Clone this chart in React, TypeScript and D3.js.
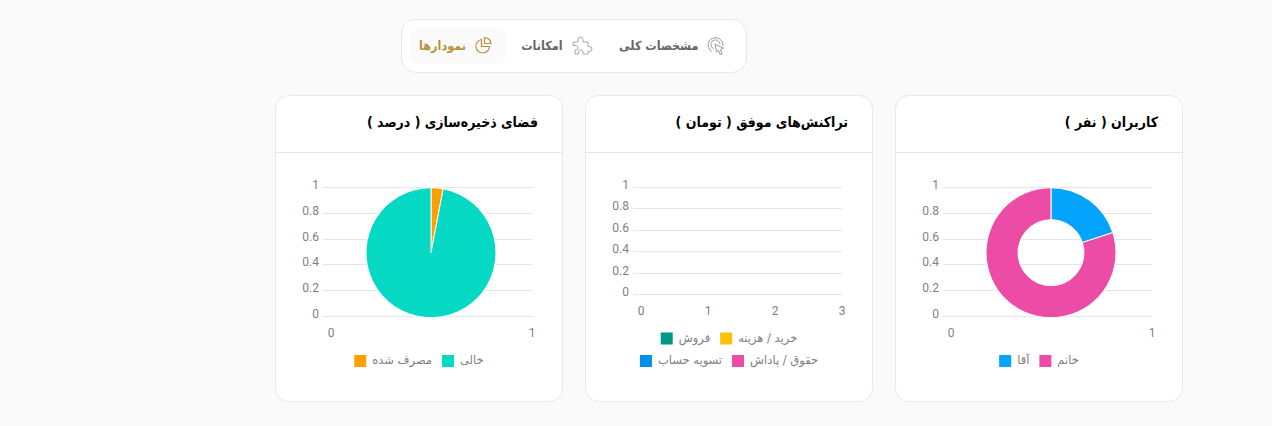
import { useEffect, useRef } from "react";
import * as d3 from "d3";

const WIDTH = 1272;
const HEIGHT = 426;
const FA_FONT = "'DejaVu Sans', sans-serif";
const FA_CONDENSED = "'DejaVu Sans Condensed', 'DejaVu Sans', sans-serif";
const NUM_FONT = "Roboto, sans-serif";

const yTicks = [0, 0.2, 0.4, 0.6, 0.8, 1];

const userLabels = ["خانم", "آقا"];
const userValues = [80, 20];
const userColors = ["#ec4ca5", "#03a5fc"];

const txLabels = ["خرید / هزینه", "فروش", "حقوق / پاداش", "تسویه حساب"];
const txColors = ["#ffc107", "#009688", "#ec4ca5", "#0090ea"];
const txXTicks = [0, 1, 2, 3];

const storageLabels = ["خالی", "مصرف شده"];
const storageValues = [97, 3];
const storageColors = ["#05d9c3", "#ff9f00"];

const tabLabels = ["مشخصات کلی", "امکانات", "نمودارها"];

interface CardSpec {
  left: number;
  title: string;
  labels: string[][];
  colors: string[][];
  xTicks: number[];
  bottom: number;
  values?: number[];
  sliceColors?: string[];
  inner?: number;
}

const cards: CardSpec[] = [
  {
    left: 895.5,
    title: "کاربران ( نفر )",
    labels: [userLabels],
    colors: [userColors],
    xTicks: [0, 1],
    bottom: 316.5,
    values: userValues,
    sliceColors: userColors,
    inner: 33,
  },
  {
    left: 585.5,
    title: "تراکنش‌های موفق ( تومان )",
    labels: [txLabels.slice(0, 2), txLabels.slice(2)],
    colors: [txColors.slice(0, 2), txColors.slice(2)],
    xTicks: txXTicks,
    bottom: 294.5,
  },
  {
    left: 275.5,
    title: "فضای ذخیره‌سازی ( درصد )",
    labels: [storageLabels],
    colors: [storageColors],
    xTicks: [0, 1],
    bottom: 316.5,
    values: storageValues,
    sliceColors: storageColors,
    inner: 0,
  },
];

const CARD_W = 287;
const CARD_H = 306;
const CARD_TOP = 95.5;
const GRID = "#e5e5e5";

function drawCard(svg: d3.Selection<SVGSVGElement, unknown, null, undefined>, c: CardSpec) {
  const g = svg.append("g").attr("transform", `translate(${c.left},0)`);

  g.append("rect")
    .attr("y", CARD_TOP)
    .attr("width", CARD_W)
    .attr("height", CARD_H)
    .attr("rx", 13)
    .attr("fill", "#fff")
    .attr("stroke", "#e8e8e8");

  g.append("line")
    .attr("x2", CARD_W)
    .attr("y1", 152.5)
    .attr("y2", 152.5)
    .attr("stroke", GRID);

  g.append("text")
    .attr("x", CARD_W - 24.5)
    .attr("y", 127)
    .attr("direction", "rtl")
    .attr("text-anchor", "start")
    .attr("font-family", FA_CONDENSED)
    .attr("font-size", 14)
    .attr("font-weight", 700)
    .attr("fill", "#000")
    .text(c.title);

  const x = d3
    .scaleLinear()
    .domain(d3.extent(c.xTicks) as [number, number])
    .range([55.5, 256.5]);
  const y = d3.scaleLinear().domain([0, 1]).range([c.bottom, 187.5]);
  const snap = (v: number) => Math.floor(y(v)) + 0.5;

  // grid lines run past the axis start by the tick length
  g.append("g")
    .selectAll("line")
    .data(yTicks)
    .join("line")
    .attr("x1", 47.5)
    .attr("x2", 256.5)
    .attr("y1", snap)
    .attr("y2", snap)
    .attr("stroke", GRID);

  g.append("g")
    .selectAll("text")
    .data(yTicks)
    .join("text")
    .attr("x", 43.5)
    .attr("y", (d) => snap(d) + 1.5)
    .attr("text-anchor", "end")
    .attr("font-family", NUM_FONT)
    .attr("font-size", 12)
    .attr("fill", "#808080")
    .text((d) => String(d));

  g.append("g")
    .selectAll("text")
    .data(c.xTicks)
    .join("text")
    .attr("x", (d) => x(d))
    .attr("y", c.bottom + 20.5)
    .attr("text-anchor", "middle")
    .attr("font-family", NUM_FONT)
    .attr("font-size", 12)
    .attr("fill", "#808080")
    .text((d) => String(d));

  if (c.values && c.sliceColors) {
    // slices go clockwise from the top with the last category first
    const slices = c.values.map((value, i) => ({ value, color: c.sliceColors![i] })).reverse();
    const pie = d3
      .pie<{ value: number; color: string }>()
      .sort(null)
      .value((d) => d.value);
    const arc = d3
      .arc<d3.PieArcDatum<{ value: number; color: string }>>()
      .innerRadius(c.inner ?? 0)
      .outerRadius(65);
    g.append("g")
      .attr("transform", `translate(${x(0.5) - 0.5},${y(0.5) + 0.7})`)
      .selectAll("path")
      .data(pie(slices))
      .join("path")
      .attr("d", arc)
      .attr("fill", (d) => d.data.color)
      .attr("stroke", "#fff")
      .attr("stroke-width", 1);
  }

  // legend rows, centred in the card using measured text widths
  const rowY = c.labels.length === 2 ? [338.5, 361] : [361];
  c.labels.forEach((row, r) => {
    const items = g.append("g");
    const texts = row.map((label) =>
      items
        .append("text")
        .attr("direction", "rtl")
        .attr("text-anchor", "start")
        .attr("y", rowY[r] + 3)
        .attr("font-family", FA_FONT)
        .attr("font-size", 11.5)
        .attr("fill", "#808080")
        .text(label)
    );
    const widths = texts.map((t) => t.node()!.getComputedTextLength());
    const total = d3.sum(widths) + row.length * 18 + (row.length - 1) * 10;
    let right = CARD_W / 2 + total / 2;
    row.forEach((_, i) => {
      texts[i].attr("x", right);
      right -= widths[i] + 6;
      items
        .append("rect")
        .attr("x", right - 12)
        .attr("y", rowY[r] - 6)
        .attr("width", 12)
        .attr("height", 12)
        .attr("fill", c.colors[r][i]);
      right -= 12 + 10;
    });
  });
}

function drawTabs(svg: d3.Selection<SVGSVGElement, unknown, null, undefined>) {
  const g = svg.append("g");
  g.append("rect")
    .attr("x", 401.5)
    .attr("y", 19.5)
    .attr("width", 345)
    .attr("height", 53)
    .attr("rx", 14)
    .attr("fill", "#fff")
    .attr("stroke", "#e8e8e8");
  g.append("rect")
    .attr("x", 410)
    .attr("y", 28)
    .attr("width", 96)
    .attr("height", 36)
    .attr("rx", 9)
    .attr("fill", "#fafafa");

  const tabRight = [698.5, 562.5, 466];
  const tabFill = ["#666", "#666", "#b8923a"];
  tabLabels.forEach((label, i) => {
    g.append("text")
      .attr("x", tabRight[i])
      .attr("y", 50)
      .attr("direction", "rtl")
      .attr("text-anchor", "start")
      .attr("font-family", FA_CONDENSED)
      .attr("font-size", 12.5)
      .attr("font-weight", 700)
      .attr("fill", tabFill[i])
      .text(label);
  });

  // click icon
  const click = g
    .append("g")
    .attr("transform", "translate(708,37)")
    .attr("fill", "none")
    .attr("stroke", "#9a9a9a")
    .attr("stroke-width", 1)
    .attr("stroke-linecap", "round");
  click.append("path").attr("d", "M3.5 14.5A7.5 7.5 0 1 1 15 8.5");
  click.append("path").attr("d", "M5.2 11.5A4.6 4.6 0 1 1 12 7");
  click.append("path").attr("d", "M7.5 7.5L15.5 11L12.5 12.5L14 17L12 17.5L10.6 13.2L8.8 14.8Z");

  // puzzle icon
  g.append("path")
    .attr("transform", "translate(572,36)")
    .attr("fill", "none")
    .attr("stroke", "#a8a8a8")
    .attr("stroke-width", 1)
    .attr(
      "d",
      "M1 6H6V3.5A2.5 2.5 0 0 1 11 3.5V6H16V10.5H17.5A2.5 2.5 0 0 1 17.5 15.5H16V18H11V16A2.2 2.2 0 0 0 6.5 16V18H3V14H4.5A2.5 2.5 0 0 0 4.5 9.5H1Z"
    );

  // pie icon
  const pieIcon = g
    .append("g")
    .attr("transform", "translate(483,45)")
    .attr("fill", "none")
    .attr("stroke", "#b8923a")
    .attr("stroke-width", 1.2)
    .attr("stroke-linejoin", "round");
  pieIcon.append("path").attr("d", "M-1.5-5.5A6.8 6.8 0 1 0 6.5 1.5H-1.5Z");
  pieIcon.append("path").attr("d", "M1.5-7.5A6.5 6.5 0 0 1 8-1.5H1.5Z");
}

export default function App() {
  const svgRef = useRef<SVGSVGElement>(null);

  useEffect(() => {
    document.body.style.margin = "0";
    if (!svgRef.current) return;
    const svg = d3.select(svgRef.current);
    svg.selectAll("*").remove();
    svg.append("rect").attr("width", WIDTH).attr("height", HEIGHT).attr("fill", "#fafafa");
    drawTabs(svg);
    cards.forEach((c) => drawCard(svg, c));
  }, []);

  return <svg ref={svgRef} width={WIDTH} height={HEIGHT} style={{ display: "block" }} />;
}
